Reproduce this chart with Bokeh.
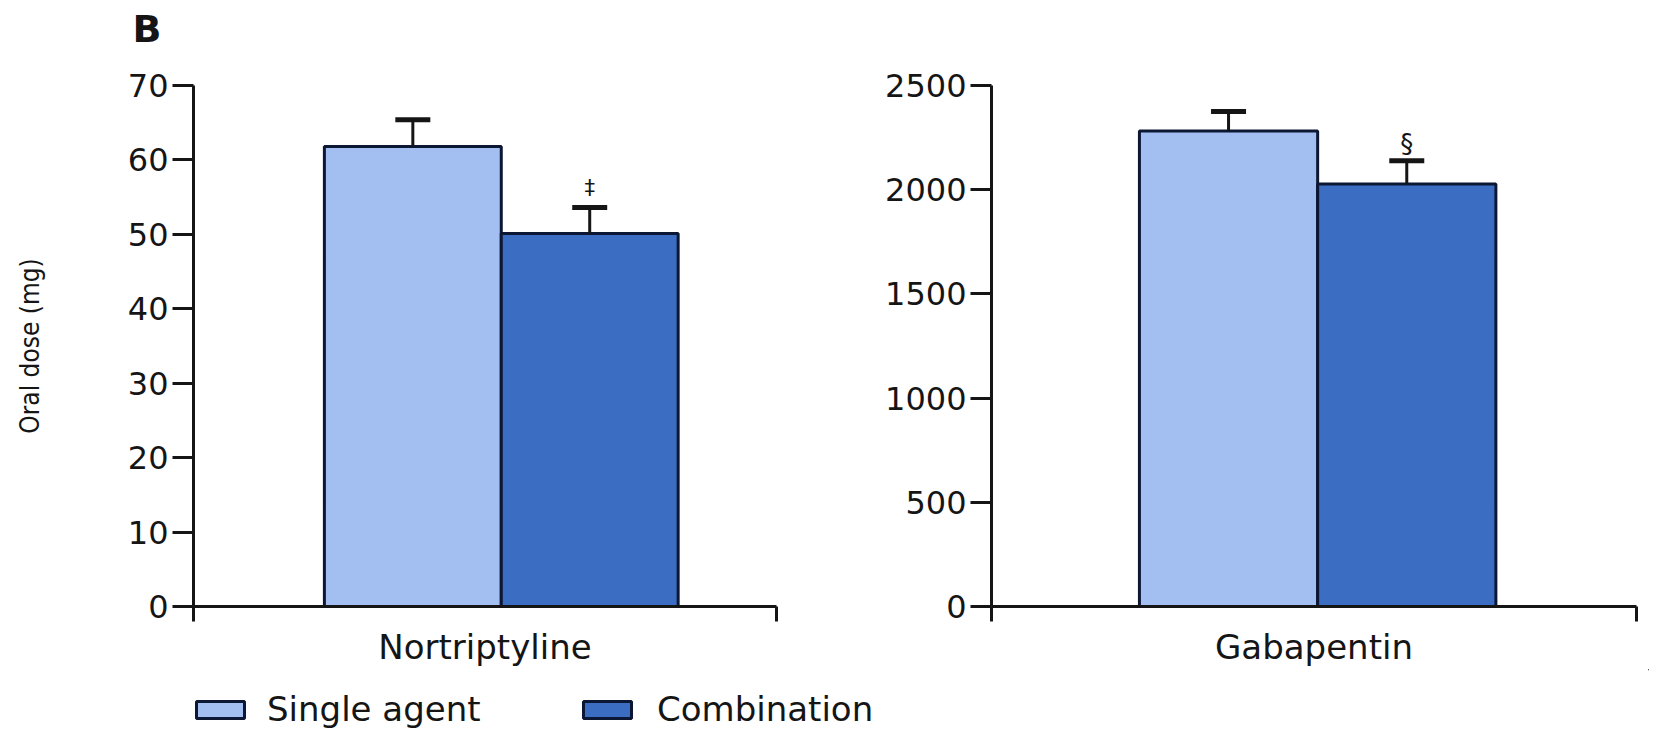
from bokeh.plotting import figure
from bokeh.layouts import column, row
from bokeh.models import (ColumnDataSource, Range1d, FixedTicker, Whisker, TeeHead,
                          Title, Legend, LegendItem)
from bokeh.core.properties import value
from bokeh.embed import file_html
from bokeh.resources import INLINE

# ---------------- data ----------------
panel_letter = "B"
drugs = ["Nortriptyline", "Gabapentin"]
series = ["Single agent", "Combination"]
single_mean = [61.8, 2282]
combo_mean = [50.1, 2027]
single_err = [3.6, 93]
combo_err = [3.5, 112]
combo_marks = ["\u2021", "\u00a7"]
left_ticks = [0, 10, 20, 30, 40, 50, 60, 70]
right_ticks = [0, 500, 1000, 1500, 2000, 2500]
y_max = [70, 2500]
y_ticks = [left_ticks, right_ticks]

# ---------------- style ----------------
COLORS = ["#a3bef0", "#3b6ec3"]
OUTLINE = "#0c1733"
INK = "#151515"
FONT = "DejaVu Sans"
dodge = [-0.5, 0.5]
x_limits = [(-1.740, 1.556), (-1.830, 1.789)]
fig_w = [840, 809]
borders = [dict(min_border_left=193, min_border_right=64),
           dict(min_border_left=151, min_border_right=13)]
mark_size = ["21px", "26px"]
mark_off = [-8, -2]

# ---------------- top strip with the panel letter ----------------
p0 = figure(width=1649, height=52, x_range=Range1d(0, 1), y_range=Range1d(0, 1),
            min_border_top=50, min_border_bottom=0, min_border_left=0,
            min_border_right=0, toolbar_location=None, output_backend="svg")
p0.axis.visible = False
p0.grid.visible = False
p0.outline_line_color = None
ttl = Title(text=panel_letter, align="left", offset=132, text_font=FONT,
            text_font_style="bold", text_font_size="38px", text_color=INK)
if "standoff" in Title.properties():
    ttl.standoff = 0
p0.title = ttl

figs = []
for i, drug in enumerate(drugs):
    xs, xe = x_limits[i]
    p = figure(width=fig_w[i], height=617, x_range=Range1d(xs, xe),
               y_range=Range1d(0, y_max[i]), min_border_top=33, min_border_bottom=63,
               toolbar_location=None, output_backend="svg", **borders[i])
    p.title = None
    p.outline_line_color = None
    p.grid.visible = False
    p.background_fill_color = "white"
    p.border_fill_color = "white"

    src = ColumnDataSource(dict(
        x=dodge,
        top=[single_mean[i], combo_mean[i]],
        upper=[single_mean[i] + single_err[i], combo_mean[i] + combo_err[i]],
        color=COLORS,
        mark=["", combo_marks[i]],
    ))
    p.vbar(x="x", top="top", bottom=0, width=1.0, fill_color="color",
           line_color=OUTLINE, line_width=3, source=src)
    w = Whisker(source=src, base="x", lower="top", upper="upper", dimension="height",
                line_color=INK, line_width=3, lower_head=None,
                upper_head=TeeHead(size=35, line_width=5, line_color=INK))
    w.level = "overlay"
    p.add_layout(w)
    p.text(x="x", y="upper", text="mark", source=src, text_align="center",
           text_baseline="bottom", y_offset=mark_off[i], text_font=value(FONT),
           text_font_size=mark_size[i], text_color=INK)

    # y axis
    ya = p.yaxis[0]
    ya.ticker = FixedTicker(ticks=y_ticks[i])
    ya.minor_tick_line_color = None
    ya.major_tick_in = 0
    ya.major_tick_out = 21
    ya.major_tick_line_width = 3
    ya.major_tick_line_color = INK
    ya.axis_line_width = 3
    ya.axis_line_color = INK
    ya.major_label_standoff = 4
    ya.major_label_text_font = FONT
    ya.major_label_text_font_size = "32px"
    ya.major_label_text_color = INK

    # x axis (ticks only at the ends, category as label)
    xa = p.xaxis[0]
    xa.ticker = FixedTicker(ticks=[xs + 1e-9, xe - 1e-9])
    xa.minor_tick_line_color = None
    xa.major_tick_in = 0
    xa.major_tick_out = 15
    xa.major_tick_line_width = 3
    xa.major_tick_line_color = INK
    xa.axis_line_width = 3
    xa.axis_line_color = INK
    xa.major_label_text_font_size = "1px"
    xa.major_label_text_alpha = 0
    xa.major_label_text_color = None
    xa.major_label_standoff = 0
    xa.axis_label = drug
    xa.axis_label_standoff = 5
    xa.axis_label_text_font = FONT
    xa.axis_label_text_font_style = "normal"
    xa.axis_label_text_font_size = "34px"
    xa.axis_label_text_color = INK
    figs.append(p)

p1, p2 = figs
p1.yaxis[0].axis_label = "Oral dose (mg)"
p1.yaxis[0].axis_label_text_font = "DejaVu Sans Condensed"
p1.yaxis[0].axis_label_text_font_style = "normal"
p1.yaxis[0].axis_label_text_font_size = "26px"
p1.yaxis[0].axis_label_text_color = INK
p1.yaxis[0].axis_label_standoff = 80

# ---------------- legend strip ----------------
p3 = figure(width=1649, height=60, x_range=Range1d(0, 1), y_range=Range1d(0, 1),
            min_border=0, toolbar_location=None, output_backend="svg")
p3.axis.visible = False
p3.grid.visible = False
p3.outline_line_color = None
legend_x = [190, 577]
legend_standoff = [17, 20]
for j, name in enumerate(series):
    # bar kept outside the visible range: only its legend swatch is shown
    r = p3.vbar(x=[5], top=[5], bottom=[4], width=1, fill_color=COLORS[j],
                line_color=OUTLINE, line_width=3)
    leg = Legend(items=[LegendItem(label=name, renderers=[r])], location=(legend_x[j], 0),
                 orientation="horizontal", glyph_width=60, glyph_height=21,
                 label_standoff=legend_standoff[j], label_text_font=FONT,
                 label_text_font_size="34px", label_text_color=INK, padding=0, margin=0,
                 border_line_color=None, background_fill_alpha=0, label_height=21)
    p3.add_layout(leg)

layout = column(p0, row(p1, p2), p3)
open("out.html", "w").write(file_html(layout, INLINE))
